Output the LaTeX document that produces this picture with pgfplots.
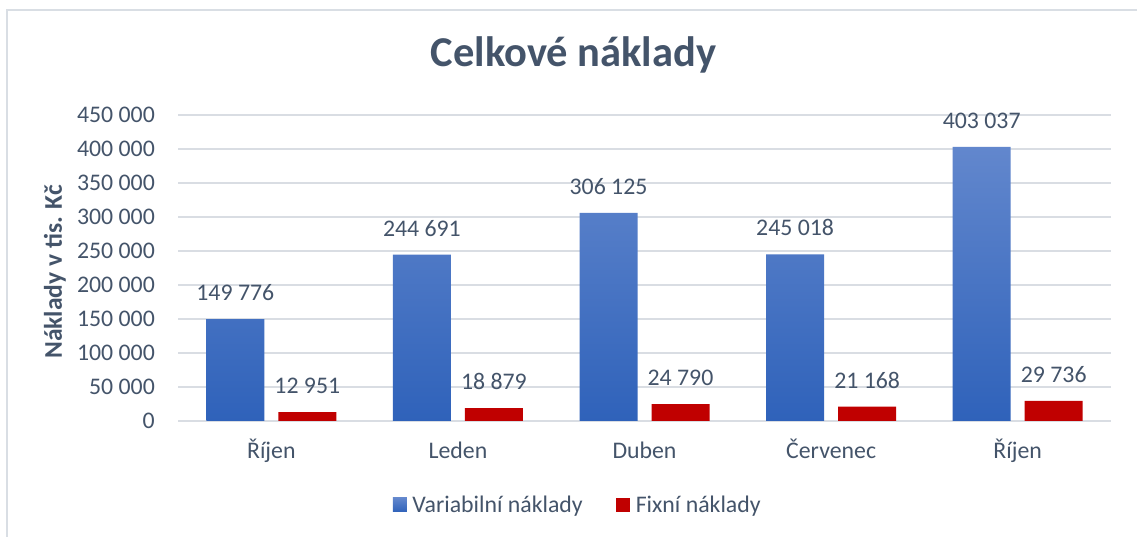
\documentclass[border=0pt]{standalone}
\usepackage{fontspec}
\setmainfont{Carlito}
\usepackage{pgfplots}
\pgfplotsset{compat=1.18}
\definecolor{textc}{RGB}{68,84,106}
\definecolor{gridc}{RGB}{217,221,227}
\definecolor{framec}{RGB}{217,222,228}
\definecolor{bluetop}{RGB}{98,135,205}
\definecolor{bluebot}{RGB}{47,98,186}
\definecolor{redc}{RGB}{192,0,0}
\newcommand{\fs}{\fontsize{23.8}{28}\selectfont}
\begin{document}
\color{textc}%
\begin{tikzpicture}
\useasboundingbox (0,0) rectangle (1137pt,537pt);
\fill[white] (0,0) rectangle (1137pt,537pt);
\draw[framec, line width=1.5pt] (7pt,0) -- (7pt,527pt) -- (1137pt,527pt);
\node[anchor=base, font=\fontsize{42.5}{48}\selectfont\bfseries, text=textc] at (573.5pt,470pt) {Celkové náklady};
\node[rotate=90, font=\fontsize{25.5}{30}\selectfont\bfseries, text=textc] at (55pt,265pt) {Náklady v tis. Kč};
\begin{axis}[
  at={(178pt,116pt)}, anchor=south west,
  width=933pt, height=306pt, scale only axis,
  ybar, bar width=58pt,
  xmin=-0.5, xmax=4.5, ymin=0, ymax=450000,
  xtick={0,1,2,3,4},
  xticklabels={Říjen,Leden,Duben,Červenec,Říjen},
  ytick={0,50000,100000,150000,200000,250000,300000,350000,400000,450000},
  scaled y ticks=false,
  /pgf/number format/fixed,
  /pgf/number format/precision=0,
  /pgf/number format/1000 sep={\ },
  /pgf/number format/assume math mode=true,
  axis line style={draw=none},
  major tick length=0pt,
  ymajorgrids, grid style={gridc, line width=1.5pt},
  tick label style={font=\fs, text=textc},
  xticklabel style={anchor=base, yshift=-38pt, inner sep=0pt},
  yticklabel style={anchor=east, xshift=-23pt, inner sep=0pt},
  nodes near coords,
  every node near coord/.append style={font=\fs, text=textc, anchor=base, yshift=18.5pt},
  legend columns=2,
  legend style={at={(0.4288,-0.2745)}, anchor=center, draw=none, fill=none, font=\fs,
    text=textc, nodes={inner sep=2.5pt},
    /tikz/every even column/.append style={column sep=31pt}},
  legend image code/.code={\path[#1,draw=none] (0pt,-7pt) rectangle (14pt,7pt); \path (17pt,0pt);},
]
\addplot[bar shift=-36pt, draw=none, top color=bluetop, bottom color=bluebot]
  coordinates {(0,149776) (1,244691) (2,306125) (3,245018) (4,403037)};
\addplot[bar shift=36pt, draw=none, fill=redc]
  coordinates {(0,12951) (1,18879) (2,24790) (3,21168) (4,29736)};
\legend{Variabilní náklady, Fixní náklady}
\end{axis}
\end{tikzpicture}
\end{document}
